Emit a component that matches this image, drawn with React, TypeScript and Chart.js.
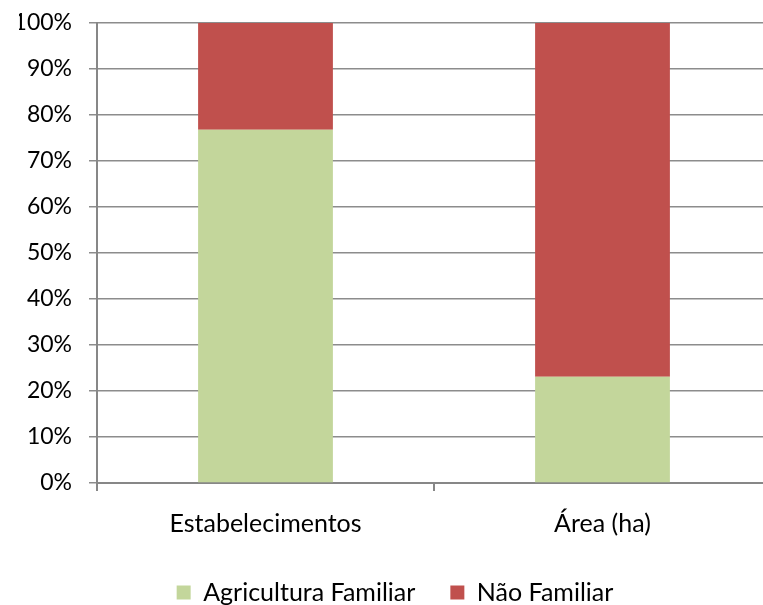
import React, { useEffect, useRef } from "react";
import { Chart, registerables } from "chart.js";

Chart.register(...registerables);

const categories = ["Estabelecimentos", "Área (ha)"];
const agriculturaFamiliar = [76.8, 23.1];
const naoFamiliar = [23.2, 76.9];
const yTicks = [0, 10, 20, 30, 40, 50, 60, 70, 80, 90, 100];

const FONT = "Lato, 'Open Sans', sans-serif";

export default function App() {
  const ref = useRef<HTMLCanvasElement>(null);
  useEffect(() => {
    if (!ref.current) return;
    const chart = new Chart(ref.current, {
      type: "bar",
      data: {
        labels: categories,
        datasets: [
          {
            label: "Agricultura Familiar",
            data: agriculturaFamiliar,
            backgroundColor: "#C3D69B",
            barPercentage: 0.4,
            categoryPercentage: 1,
          },
          {
            label: "Não Familiar",
            data: naoFamiliar,
            backgroundColor: "#C0504D",
            barPercentage: 0.4,
            categoryPercentage: 1,
          },
        ],
      },
      options: {
        responsive: false,
        animation: false,
        devicePixelRatio: 1,
        layout: { padding: { top: 23, right: 1, left: 19, bottom: -10 } },
        plugins: {
          tooltip: { enabled: false },
          legend: {
            position: "bottom",
            labels: {
              boxWidth: 14,
              boxHeight: 14,
              padding: 35,
              color: "#000",
              font: { family: FONT, size: 25 },
            },
          },
        },
        scales: {
          x: {
            stacked: true,
            grid: {
              display: true,
              drawOnChartArea: false,
              drawTicks: true,
              tickLength: 8,
              color: "#878787",
              lineWidth: 2,
              offset: true,
            },
            border: { display: true, color: "#878787", width: 2 },
            ticks: {
              color: "#000",
              padding: 18,
              font: { family: FONT, size: 25 },
            },
            afterFit: (s: any) => {
              s.height = 62;
            },
          },
          y: {
            stacked: true,
            min: 0,
            max: 100,
            afterBuildTicks: (s: any) => {
              s.ticks = yTicks.map((v) => ({ value: v }));
            },
            grid: {
              color: "#8c8c8c",
              lineWidth: 1.5,
              tickLength: 8,
            },
            border: { display: true, color: "#878787", width: 2 },
            ticks: {
              color: "#000",
              padding: 17,
              font: { family: FONT, size: 23 },
              callback: (v: any) => v + "%",
            },
            afterFit: (s: any) => {
              s.width = 78;
              s.paddingTop = 0;
              s.paddingBottom = 0;
            },
          },
        },
      },
    });
    return () => chart.destroy();
  }, []);
  return (
    <div
      style={{
        position: "fixed",
        left: 0,
        top: 0,
        width: 763,
        height: 605,
        overflow: "hidden",
        background: "#fff",
      }}
    >
      <canvas ref={ref} width={772} height={605} style={{ display: "block" }} />
    </div>
  );
}
